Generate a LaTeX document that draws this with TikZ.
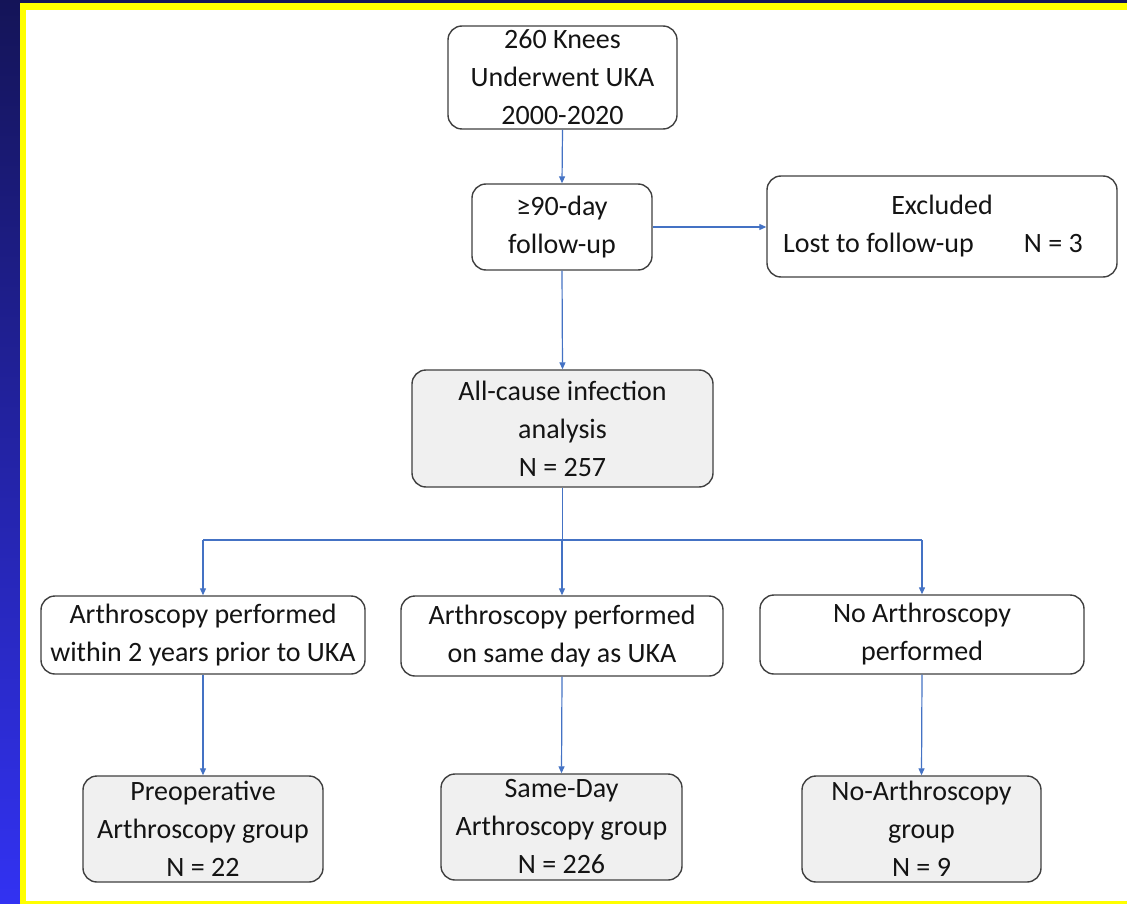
\documentclass[tikz,border=0pt]{standalone}
\usepackage{fontspec}
\setmainfont{Carlito}
\usetikzlibrary{arrows.meta}
\definecolor{navy}{RGB}{20,20,88}
\definecolor{brightblue}{RGB}{50,50,242}
\definecolor{frameyellow}{RGB}{255,255,0}
\definecolor{arrowblue}{RGB}{68,114,196}
\definecolor{boxgray}{RGB}{240,240,240}
\definecolor{boxline}{RGB}{64,64,64}
\definecolor{txt}{RGB}{20,20,20}
\begin{document}
\begin{tikzpicture}[x=1pt,y=-1pt,
  box/.style={draw=boxline, line width=1.4pt, rounded corners=14pt, fill=white,
    text=txt, align=center, inner sep=0pt, font=\fontsize{28}{38}\selectfont},
  graybox/.style={box, fill=boxgray},
  conn/.style={draw=arrowblue, line width=1.2pt, -{Triangle[length=7pt,width=6pt]}},
  plain/.style={draw=arrowblue, line width=1.2pt}]
\useasboundingbox (0,0) rectangle (1127,904);
% background
\shade[top color=navy, bottom color=brightblue] (0,0) rectangle (1127,904);
\fill[frameyellow] (20,3) rectangle (1127,904);
\fill[white] (26,10) rectangle (1127,901);
% nodes
\node[box, minimum width=229pt, minimum height=103pt] (knees) at (562.5,77.5) {260 Knees\\Underwent UKA\\2000-2020};
\node[box, minimum width=180pt, minimum height=86pt] (follow) at (562,227) {≥90-day\\follow-up};
\node[box, minimum width=350pt, minimum height=101pt] (excl) at (942,226.5) {Excluded\\Lost to follow-up\hspace{50pt}N = 3\hspace*{18pt}};
\node[graybox, minimum width=301pt, minimum height=117pt] (analysis) at (562.5,428.5) {All-cause infection\\analysis\\N = 257};
\node[box, minimum width=324pt, minimum height=78pt] (pre) at (203,635) {Arthroscopy performed\\within 2 years prior to UKA};
\node[box, minimum width=322pt, minimum height=80pt] (same) at (562,636) {Arthroscopy performed\\on same day as UKA};
\node[box, minimum width=324pt, minimum height=79pt] (none) at (922,634.5) {No Arthroscopy\\performed};
\node[graybox, minimum width=240pt, minimum height=106pt] (pregrp) at (203,829) {Preoperative\\Arthroscopy group\\N = 22};
\node[graybox, minimum width=241pt, minimum height=106pt] (samegrp) at (561.5,827) {Same-Day\\Arthroscopy group\\N = 226};
\node[graybox, minimum width=239pt, minimum height=106pt] (nonegrp) at (921.5,829) {No-Arthroscopy\\group\\N = 9};
% connectors
\draw[conn] (knees.south) -- (follow.north);
\draw[conn] (follow.east) -- (follow.east -| excl.west);
\draw[conn] (follow.south) -- (analysis.north);
\coordinate (split) at (562.5,540);
\draw[plain] (analysis.south) -- (split);
\draw[plain] (split -| pre.north) -- (split -| none.north);
\draw[conn] (split -| pre.north) -- (pre.north);
\draw[conn] (split -| same.north) -- (same.north);
\draw[conn] (split -| none.north) -- (none.north);
\draw[conn] (pre.south) -- (pregrp.north);
\draw[conn] (same.south) -- (samegrp.north);
\draw[conn] (none.south) -- (nonegrp.north);
\end{tikzpicture}
\end{document}
